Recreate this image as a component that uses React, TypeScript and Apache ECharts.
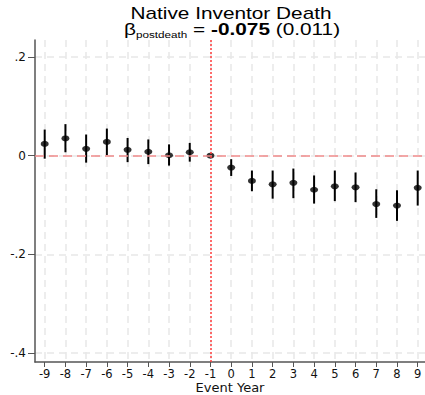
import React, { useEffect, useRef } from "react";
import * as echarts from "echarts";

const eventYears = [-9, -8, -7, -6, -5, -4, -3, -2, -1, 0, 1, 2, 3, 4, 5, 6, 7, 8, 9];
const estimates = [0.024, 0.035, 0.014, 0.028, 0.012, 0.008, 0.001, 0.007, 0, -0.024, -0.051, -0.058, -0.055, -0.069, -0.062, -0.064, -0.098, -0.101, -0.065];
const ciLower = [-0.006, 0.007, -0.014, 0.001, -0.013, -0.017, -0.02, -0.012, null, -0.041, -0.072, -0.087, -0.086, -0.097, -0.092, -0.094, -0.126, -0.132, -0.101];
const ciUpper = [0.053, 0.064, 0.043, 0.055, 0.036, 0.033, 0.023, 0.026, null, -0.007, -0.03, -0.03, -0.026, -0.04, -0.03, -0.034, -0.068, -0.07, -0.03];
const yTicks = [-0.4, -0.2, 0, 0.2];
const titleLine1 = "Native Inventor Death";
const betaValue = "-0.075";
const betaSE = "(0.011)";

const fmtY = (v: number) => {
  if (v === 0) return "0";
  const s = String(v);
  return s.replace("0.", ".");
};

export default function App() {
  const ref = useRef<HTMLDivElement>(null);
  useEffect(() => {
    if (!ref.current) return;
    const chart = echarts.init(ref.current, undefined, { renderer: "svg" });
    const points = eventYears.map((x, i) => [x, estimates[i]]);
    const bars = eventYears
      .map((x, i) => [x, ciLower[i], ciUpper[i]])
      .filter((d) => d[1] !== null && d[2] !== null);
    chart.setOption({
      animation: false,
      backgroundColor: "#ffffff",
      grid: { left: 35, right: 0, top: 40, bottom: 33, containLabel: false, outerBoundsMode: "none" },
      graphic: [
        {
          type: "text",
          x: 231,
          y: 13.4,
          scaleX: 1.3,
          style: {
            text: titleLine1,
            font: '16px "Liberation Sans"',
            fill: "#000",
            align: "center",
            verticalAlign: "middle",
          },
        },
        {
          type: "text",
          x: 232,
          y: 29.4,
          scaleX: 1.3,
          style: {
            text: `{g|β}{s|postdeath}{n| = }{b|${betaValue}}{n| ${betaSE}}`,
            align: "center",
            verticalAlign: "middle",
            fill: "#000",
            rich: {
              g: { fontSize: 16, fontFamily: "Liberation Sans", lineHeight: 20, fill: "#000" },
              s: { fontSize: 9, fontFamily: "Liberation Sans", lineHeight: 10, verticalAlign: "bottom", fill: "#000" },
              n: { fontSize: 16, fontFamily: "Liberation Sans", lineHeight: 20, fill: "#000" },
              b: { fontSize: 16, fontFamily: "Liberation Sans", fontWeight: "bold", lineHeight: 20, fill: "#000" },
            },
          },
        },
      ],
      xAxis: {
        type: "value",
        min: -9.468,
        max: 9.352,
        name: "Event Year",
        nameLocation: "middle",
        nameGap: 18,
        nameMoveOverlap: false,
        nameTextStyle: { fontFamily: "DejaVu Sans", fontSize: 13, color: "#111", lineHeight: 14 },
        axisLine: { show: true, onZero: false, lineStyle: { color: "#555", width: 1.5 } },
        axisTick: { show: true, length: 5, customValues: eventYears, lineStyle: { color: "#555", width: 1 } },
        axisLabel: {
          customValues: eventYears,
          fontFamily: "DejaVu Sans",
          fontSize: 11.5,
          color: "#111",
          margin: 6,
          formatter: (v: number) => String(v),
        },
        splitLine: { show: true, lineStyle: { color: "#e8e8e8", width: 1.5, type: [7, 5] } },
      },
      yAxis: {
        type: "value",
        min: -0.418,
        max: 0.2345,
        axisLine: { show: true, onZero: false, lineStyle: { color: "#555", width: 1.5 } },
        axisTick: { show: true, length: 7, customValues: yTicks, lineStyle: { color: "#555", width: 1 } },
        axisLabel: {
          customValues: yTicks,
          fontFamily: "DejaVu Sans",
          fontSize: 12,
          color: "#111",
          margin: 9,
          formatter: fmtY,
        },
        splitLine: { show: true, lineStyle: { color: "#e8e8e8", width: 1.5, type: [7, 5] } },
      },
      series: [
        {
          type: "line",
          data: [],
          markLine: {
            silent: true,
            symbol: ["none", "none"],
            label: { show: false },
            data: [
              { yAxis: 0, lineStyle: { color: "#f08a8a", width: 1.5, type: [9, 5] } },
              { xAxis: -1, lineStyle: { color: "#ff3b3b", width: 1.5, type: [2, 2] } },
            ],
          },
        },
        {
          type: "custom",
          data: bars,
          renderItem: (params: any, api: any) => {
            const x = api.value(0);
            const p1 = api.coord([x, api.value(1)]);
            const p2 = api.coord([x, api.value(2)]);
            return {
              type: "line",
              shape: { x1: p1[0], y1: p1[1], x2: p2[0], y2: p2[1] },
              style: { stroke: "#000", lineWidth: 2 },
            };
          },
          z: 3,
        },
        {
          type: "scatter",
          data: points,
          symbol: "circle",
          symbolSize: [8, 6],
          itemStyle: { color: "#000" },
          z: 4,
        },
      ],
    });
    return () => chart.dispose();
  }, []);
  return <div ref={ref} style={{ width: 425, height: 395, position: "absolute", left: 0, top: 0 }} />;
}
